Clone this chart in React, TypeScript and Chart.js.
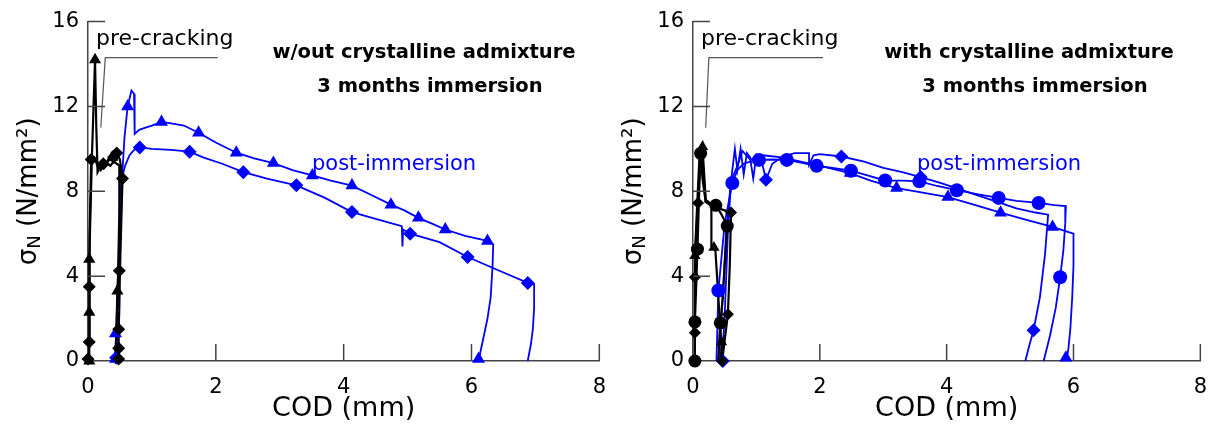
import React, { useEffect, useRef } from 'react';
import { Chart, registerables } from 'chart.js';

Chart.register(...registerables);

type Pt = [number, number];

const X_TICKS = [0, 2, 4, 6, 8];
const Y_TICKS = [0, 4, 8, 12, 16];

const BLUE = '#0000ff';
const BLACK = '#000000';
const GRAY = '#555555';

// ---------- LEFT PANEL: w/out crystalline admixture ----------
const L_PRE_TRI_LINE: Pt[] = [
  [0.0, 0], [0.02, 0], [0.02, 2.3], [0.02, 4.8], [0.06, 9.5], [0.11, 14.2], [0.13, 11], [0.15, 8.9],
  [0.2, 9.2], [0.25, 9.1], [0.3, 9.3], [0.35, 9.2], [0.4, 9.4], [0.45, 9.3], [0.5, 9.2],
  [0.49, 7], [0.47, 4], [0.46, 3.3], [0.44, 1], [0.43, 0],
];
const L_PRE_TRI_MARK: Pt[] = [[0.02, 0], [0.02, 2.3], [0.02, 4.8], [0.11, 14.2], [0.38, 9.6], [0.46, 3.3]];

const L_PRE_DIA_LINE: Pt[] = [
  [0, 0], [0.02, 0.9], [0.02, 3.5], [0.03, 6], [0.05, 9.5], [0.1, 9.6], [0.15, 9.2], [0.2, 9.0],
  [0.25, 9.3], [0.3, 9.4], [0.35, 9.5], [0.4, 9.7], [0.45, 9.8], [0.5, 9.5], [0.54, 8.6],
  [0.52, 6.5], [0.5, 4.25], [0.49, 2.5], [0.48, 1.5], [0.48, 0],
];
const L_PRE_DIA_MARK: Pt[] = [
  [0.0, 0.1], [0.02, 0.9], [0.02, 3.5], [0.05, 9.5], [0.24, 9.3], [0.4, 9.6], [0.45, 9.8],
  [0.54, 8.6], [0.49, 4.25], [0.48, 1.5], [0.48, 0.6], [0.48, 0.1],
];

const L_POST_TRI_LINE: Pt[] = [
  [0.42, 0], [0.44, 1.3], [0.47, 4], [0.52, 8], [0.57, 10.5], [0.62, 12.0], [0.68, 12.75], [0.72, 12.6],
  [0.73, 10.7], [0.8, 10.9], [0.9, 11.0], [1.0, 11.1], [1.15, 11.27], [1.3, 11.2], [1.5, 11.1],
  [1.73, 10.76], [2.0, 10.3], [2.32, 9.82], [2.6, 9.55], [2.9, 9.33], [3.2, 9.0], [3.51, 8.75],
  [3.8, 8.5], [4.13, 8.27], [4.45, 7.8], [4.74, 7.37], [4.95, 7.1], [5.17, 6.75], [5.4, 6.45],
  [5.59, 6.2], [5.9, 5.9], [6.25, 5.66], [6.34, 5.5], [6.33, 4.5], [6.3, 3], [6.25, 2], [6.18, 1], [6.11, 0],
];
const L_POST_TRI_MARK: Pt[] = [
  [0.43, 0.1], [0.43, 1.3], [0.62, 12.0], [1.15, 11.27], [1.73, 10.76], [2.32, 9.82], [2.9, 9.33],
  [3.51, 8.75], [4.13, 8.27], [4.74, 7.37], [5.17, 6.75], [5.59, 6.2], [6.25, 5.66], [6.11, 0.1],
];

const L_POST_DIA_LINE: Pt[] = [
  [0.44, 0], [0.46, 1.5], [0.48, 4.25], [0.5, 7.5], [0.53, 8.6], [0.58, 9.2], [0.65, 9.7], [0.72, 9.95],
  [0.81, 10.07], [1.0, 10.0], [1.3, 9.95], [1.59, 9.87], [1.8, 9.6], [2.1, 9.3], [2.43, 8.9],
  [2.8, 8.6], [3.26, 8.28], [3.7, 7.7], [4.13, 7.02], [4.5, 6.7], [4.91, 6.36], [4.92, 5.4],
  [4.93, 6.2], [5.04, 6.0], [5.5, 5.6], [5.94, 4.9], [6.4, 4.3], [6.88, 3.68], [6.98, 3.63],
  [6.98, 2.5], [6.96, 1.5], [6.93, 0.8], [6.88, 0],
];
const L_POST_DIA_MARK: Pt[] = [
  [0.44, 0.15], [0.81, 10.07], [1.59, 9.87], [2.43, 8.9], [3.26, 8.28], [4.13, 7.02], [5.04, 6.0],
  [5.94, 4.9], [6.88, 3.68],
];

const L_LEADER: Pt[] = [[0.2, 11.0], [0.27, 14.3], [2.03, 14.3]];

// ---------- RIGHT PANEL: with crystalline admixture ----------
const R_PRE_CIR_LINE: Pt[] = [
  [0.03, 0], [0.03, 1.84], [0.05, 3.5], [0.07, 5.27], [0.1, 8.2], [0.12, 9.79], [0.15, 8.6], [0.2, 7.5],
  [0.28, 7.4], [0.36, 7.34], [0.45, 6.9], [0.54, 6.36], [0.5, 4.5], [0.47, 3.0], [0.43, 1.8],
  [0.41, 0.8], [0.4, 0],
];
const R_PRE_CIR_MARK: Pt[] = [[0.03, 0], [0.03, 1.84], [0.07, 5.27], [0.12, 9.79], [0.36, 7.34], [0.54, 6.36], [0.43, 1.8]];

const R_PRE_DIA_LINE: Pt[] = [
  [0.02, 0], [0.03, 1.33], [0.03, 3.95], [0.05, 6], [0.08, 7.45], [0.11, 9.5], [0.14, 9.9], [0.2, 7.5],
  [0.3, 7.3], [0.4, 7.2], [0.5, 7.1], [0.6, 7.0], [0.58, 4.5], [0.55, 2.2], [0.5, 1], [0.46, 0],
];
const R_PRE_DIA_MARK: Pt[] = [[0.03, 1.33], [0.03, 3.95], [0.08, 7.45], [0.6, 7.0], [0.55, 2.2], [0.46, 0]];

const R_PRE_TRI_LINE: Pt[] = [
  [0.02, 0], [0.03, 2], [0.03, 4.96], [0.06, 7], [0.1, 9.5], [0.15, 10.1], [0.2, 7.6], [0.29, 7.4],
  [0.29, 5.4], [0.35, 5.35], [0.4, 3], [0.43, 1.5], [0.45, 0.9], [0.44, 0],
];
const R_PRE_TRI_MARK: Pt[] = [[0.03, 4.96], [0.15, 10.1], [0.33, 5.35], [0.45, 0.9]];

const R_POST_CIR_LINE: Pt[] = [
  [0.37, 0], [0.4, 3.32], [0.5, 6.5], [0.62, 8.39], [0.7, 9.0], [0.8, 9.3], [0.9, 9.4], [1.04, 9.48],
  [1.25, 9.5], [1.48, 9.48], [1.7, 9.35], [1.95, 9.2], [2.2, 9.1], [2.49, 8.97], [2.75, 8.75],
  [3.03, 8.51], [3.3, 8.5], [3.57, 8.47], [3.85, 8.25], [4.16, 8.05], [4.5, 7.85], [4.82, 7.69],
  [5.1, 7.55], [5.45, 7.45], [5.7, 7.35], [5.88, 7.3], [5.87, 6.5], [5.84, 5.2], [5.79, 3.95],
  [5.72, 2.5], [5.63, 1.2], [5.53, 0],
];
const R_POST_CIR_MARK: Pt[] = [
  [0.4, 3.32], [0.62, 8.39], [1.04, 9.48], [1.48, 9.48], [1.95, 9.2], [2.49, 8.97], [3.03, 8.51],
  [3.57, 8.47], [4.16, 8.05], [4.82, 7.69], [5.45, 7.45], [5.79, 3.95],
];

const R_POST_TRI_LINE: Pt[] = [
  [0.4, 0], [0.45, 2], [0.52, 6], [0.6, 8.5], [0.7, 9.2], [0.78, 9.9], [0.9, 9.5], [1.1, 9.7],
  [1.4, 9.6], [1.7, 9.4], [2.0, 9.2], [2.48, 8.86], [2.8, 8.5], [3.21, 8.15], [3.6, 7.95],
  [4.02, 7.73], [4.4, 7.4], [4.85, 6.99], [5.2, 6.7], [5.67, 6.32], [5.85, 6.15], [6.0, 6.0],
  [6.0, 4.5], [5.98, 3], [5.95, 1.5], [5.92, 0.6], [5.89, 0],
];
const R_POST_TRI_MARK: Pt[] = [[2.48, 8.86], [3.21, 8.15], [4.02, 7.73], [4.85, 6.99], [5.67, 6.32], [5.88, 0.15]];

const R_POST_DIA_LINE: Pt[] = [
  [0.46, 0], [0.5, 2.2], [0.55, 6], [0.6, 8.5], [0.66, 10.0], [0.7, 9.0], [0.75, 10.0], [0.8, 8.8],
  [0.85, 9.8], [0.9, 9.6], [0.95, 8.6], [1.0, 9.7], [1.1, 9.2], [1.15, 8.54], [1.25, 9.3], [1.4, 9.6],
  [1.6, 9.8], [1.83, 9.8], [1.83, 9.25], [1.9, 9.7], [2.0, 9.75], [2.34, 9.64], [2.7, 9.4], [3.0, 9.1],
  [3.3, 8.9], [3.59, 8.67], [3.9, 8.4], [4.2, 8.1], [4.5, 7.8], [4.8, 7.5], [5.1, 7.2], [5.4, 7.0],
  [5.6, 6.9], [5.55, 5], [5.47, 3], [5.37, 1.45], [5.3, 0.7], [5.24, 0],
];
const R_POST_DIA_MARK: Pt[] = [[0.47, 0], [1.15, 8.54], [2.34, 9.64], [3.59, 8.67], [5.37, 1.45]];

const R_LEADER: Pt[] = [[0.2, 11.0], [0.25, 14.3], [2.05, 14.3]];

// ---------- texts ----------
const PRE_LABEL = 'pre-cracking';
const POST_LABEL = 'post-immersion';
const L_TITLE = ['w/out crystalline admixture', '3 months immersion'];
const R_TITLE = ['with crystalline admixture', '3 months immersion'];
const X_TITLE = 'COD (mm)';
const Y_TITLE_MAIN = 'σ';
const Y_TITLE_SUB = 'N';
const Y_TITLE_REST = ' (N/mm²)';

const FONT = "'DejaVu Sans', sans-serif";

const toXY = (d: Pt[]) => d.map(([x, y]) => ({ x, y }));

const lineDs = (d: Pt[], color: string, width: number) => ({
  data: toXY(d),
  showLine: true,
  borderColor: color,
  borderWidth: width,
  pointRadius: 0,
  pointHoverRadius: 0,
  tension: 0,
  fill: false,
});

const markDs = (d: Pt[], color: string, style: string, r: number) => ({
  data: toXY(d),
  showLine: false,
  pointStyle: style,
  pointRadius: r,
  pointHoverRadius: r,
  backgroundColor: color,
  borderColor: color,
  borderWidth: 0,
  clip: false,
});

type PanelProps = {
  left: number;
  width: number;
  padRight: number;
  datasets: any[];
  title: string[];
};

function Panel({ left, width, padRight, datasets, title }: PanelProps) {
  const ref = useRef<HTMLCanvasElement | null>(null);
  useEffect(() => {
    if (!ref.current) return;
    const deco = {
      id: 'deco',
      afterDraw(chart: any) {
        const { ctx, chartArea: a, scales } = chart;
        const xs = scales.x;
        const ys = scales.y;
        ctx.save();
        // inner ticks
        ctx.strokeStyle = '#444';
        ctx.lineWidth = 1.5;
        ctx.beginPath();
        X_TICKS.slice(1).forEach((v) => {
          const px = xs.getPixelForValue(v);
          ctx.moveTo(px, a.bottom);
          ctx.lineTo(px, a.bottom - 17);
        });
        Y_TICKS.slice(1).forEach((v) => {
          const py = ys.getPixelForValue(v);
          ctx.moveTo(a.left, py);
          ctx.lineTo(a.left + 17, py);
        });
        ctx.stroke();

        // texts
        ctx.textBaseline = 'alphabetic';
        ctx.fillStyle = BLACK;
        ctx.font = `22px ${FONT}`;
        ctx.textAlign = 'left';
        ctx.fillText(PRE_LABEL, a.left + 8, 45);

        ctx.font = `bold 19.5px ${FONT}`;
        ctx.textAlign = 'center';
        ctx.fillText(title[0], a.left + 336, 58);
        ctx.fillText(title[1], a.left + 342, 92);

        ctx.font = `21px ${FONT}`;
        ctx.fillStyle = BLUE;
        ctx.textAlign = 'left';
        ctx.fillText(POST_LABEL, a.left + 224, 170);

        // x title
        ctx.fillStyle = BLACK;
        ctx.font = `27px ${FONT}`;
        ctx.textAlign = 'center';
        ctx.textBaseline = 'middle';
        ctx.fillText(X_TITLE, (a.left + a.right) / 2, 409);

        // y title rotated with subscript
        const cy = (a.top + a.bottom) / 2;
        const cx = a.left - 59;
        ctx.translate(cx, cy);
        ctx.rotate(-Math.PI / 2);
        ctx.textAlign = 'left';
        ctx.textBaseline = 'middle';
        const mainFont = `26px ${FONT}`;
        const subFont = `18px ${FONT}`;
        ctx.font = mainFont;
        const w1 = ctx.measureText(Y_TITLE_MAIN).width;
        const w3 = ctx.measureText(Y_TITLE_REST).width;
        ctx.font = subFont;
        const w2 = ctx.measureText(Y_TITLE_SUB).width;
        let sx = -(w1 + w2 + w3) / 2;
        ctx.font = mainFont;
        ctx.fillText(Y_TITLE_MAIN, sx, 0);
        sx += w1;
        ctx.font = subFont;
        ctx.fillText(Y_TITLE_SUB, sx, 6);
        sx += w2;
        ctx.font = mainFont;
        ctx.fillText(Y_TITLE_REST, sx, 0);
        ctx.restore();
      },
    };

    const chart = new Chart(ref.current, {
      type: 'scatter',
      data: { datasets },
      options: {
        responsive: false,
        animation: false,
        events: [],
        layout: { padding: { left: 0, right: padRight, top: 19, bottom: 0 } },
        plugins: { legend: { display: false }, tooltip: { enabled: false } },
        scales: {
          x: {
            type: 'linear',
            min: X_TICKS[0],
            max: X_TICKS[X_TICKS.length - 1],
            afterBuildTicks: (s: any) => {
              s.ticks = X_TICKS.map((v) => ({ value: v }));
            },
            afterFit: (s: any) => {
              s.height = 84;
            },
            grid: { display: false, drawTicks: false },
            border: { display: true, color: '#444', width: 1.5 },
            ticks: { color: BLACK, font: { family: FONT, size: 21 }, padding: 14 },
          },
          y: {
            type: 'linear',
            min: Y_TICKS[0],
            max: Y_TICKS[Y_TICKS.length - 1],
            afterBuildTicks: (s: any) => {
              s.ticks = Y_TICKS.map((v) => ({ value: v }));
            },
            afterFit: (s: any) => {
              s.width = 88;
            },
            grid: { display: false, drawTicks: false },
            border: { display: true, color: '#444', width: 1.5 },
            ticks: { color: BLACK, font: { family: FONT, size: 21 }, padding: 9 },
          },
        },
      } as any,
      plugins: [deco],
    });
    return () => chart.destroy();
  }, []);
  return (
    <canvas
      ref={ref}
      width={width}
      height={445}
      style={{ position: 'absolute', left, top: 0, width, height: 445 }}
    />
  );
}

const leftDatasets = [
  markDs(L_PRE_TRI_MARK, BLACK, 'triangle', 7),
  markDs(L_PRE_DIA_MARK, BLACK, 'rectRot', 6.5),
  markDs(L_POST_TRI_MARK, BLUE, 'triangle', 7.5),
  markDs(L_POST_DIA_MARK, BLUE, 'rectRot', 7),
  lineDs(L_PRE_TRI_LINE, BLACK, 2.2),
  lineDs(L_PRE_DIA_LINE, BLACK, 2.2),
  lineDs(L_POST_TRI_LINE, BLUE, 1.8),
  lineDs(L_POST_DIA_LINE, BLUE, 1.8),
  lineDs(L_LEADER, GRAY, 1.2),
];

const rightDatasets = [
  markDs(R_PRE_CIR_MARK, BLACK, 'circle', 6.5),
  markDs(R_PRE_DIA_MARK, BLACK, 'rectRot', 6),
  markDs(R_PRE_TRI_MARK, BLACK, 'triangle', 6.5),
  markDs(R_POST_CIR_MARK, BLUE, 'circle', 7),
  markDs(R_POST_DIA_MARK, BLUE, 'rectRot', 7),
  markDs(R_POST_TRI_MARK, BLUE, 'triangle', 7.5),
  lineDs(R_PRE_CIR_LINE, BLACK, 2.2),
  lineDs(R_PRE_DIA_LINE, BLACK, 2.2),
  lineDs(R_PRE_TRI_LINE, BLACK, 2.2),
  lineDs(R_POST_CIR_LINE, BLUE, 1.8),
  lineDs(R_POST_DIA_LINE, BLUE, 1.8),
  lineDs(R_POST_TRI_LINE, BLUE, 1.8),
  lineDs(R_LEADER, GRAY, 1.2),
];

export default function App() {
  return (
    <div style={{ position: 'absolute', left: 0, top: 0, width: 1221, height: 445, background: '#fff' }}>
      <Panel left={0} width={620} padRight={20} datasets={leftDatasets} title={L_TITLE} />
      <Panel left={605} width={616} padRight={17} datasets={rightDatasets} title={R_TITLE} />
    </div>
  );
}
